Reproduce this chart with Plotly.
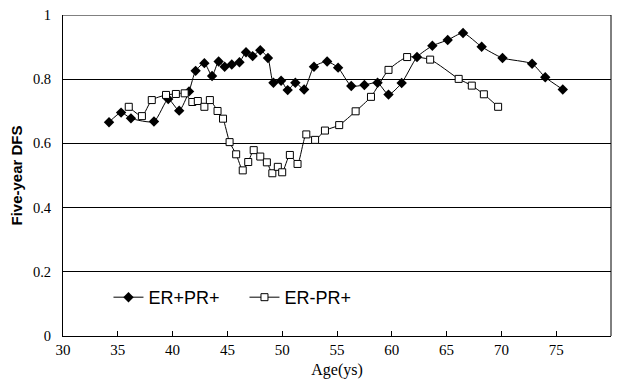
import plotly.graph_objects as go

# ER+PR+ series (black diamonds)
age_erpr = [34.2, 35.3, 36.2, 38.3, 39.6, 40.6, 41.5, 42.1, 42.9, 43.6, 44.2, 44.75, 45.4, 46.1,
            46.7, 47.3, 48.0, 48.7, 49.2, 49.9, 50.5, 51.2, 52.0, 52.9, 54.1, 55.1, 56.3, 57.5,
            58.7, 59.7, 60.9, 62.3, 63.7, 65.1, 66.5, 68.2, 70.1, 72.8, 74.0, 75.6]
dfs_erpr = [0.666, 0.696, 0.678, 0.668, 0.738, 0.702, 0.762, 0.826, 0.850, 0.810, 0.855, 0.839, 0.846, 0.853,
            0.884, 0.872, 0.890, 0.866, 0.789, 0.795, 0.766, 0.789, 0.768, 0.839, 0.855, 0.836, 0.779, 0.782,
            0.789, 0.752, 0.788, 0.869, 0.904, 0.922, 0.944, 0.901, 0.866, 0.848, 0.806, 0.768]

# ER-PR+ series (open squares)
age_ernpr = [36.0, 37.2, 38.1, 39.4, 40.3, 41.1, 41.8, 42.3, 42.9, 43.4, 44.1, 44.6, 45.2, 45.8,
             46.4, 46.9, 47.4, 48.0, 48.6, 49.1, 49.6, 50.0, 50.7, 51.4, 52.2, 53.0, 53.9, 55.2,
             56.7, 58.1, 59.7, 61.4, 63.5, 66.1, 67.3, 68.4, 69.7]
dfs_ernpr = [0.714, 0.685, 0.735, 0.751, 0.754, 0.756, 0.729, 0.732, 0.714, 0.735, 0.701, 0.677, 0.604, 0.566,
             0.516, 0.542, 0.579, 0.559, 0.541, 0.507, 0.527, 0.510, 0.564, 0.536, 0.628, 0.611, 0.640, 0.657,
             0.700, 0.745, 0.829, 0.869, 0.861, 0.801, 0.780, 0.753, 0.714]

x_ticks = [30, 35, 40, 45, 50, 55, 60, 65, 70, 75, 80]
y_ticks = [0, 0.2, 0.4, 0.6, 0.8, 1]
y_tick_labels = ["0", "0.2", "0.4", "0.6", "0.8", "1"]

fig = go.Figure()
fig.add_trace(go.Scatter(
    x=age_erpr, y=dfs_erpr, name="ER+PR+", mode="lines+markers",
    line=dict(color="black", width=1, shape="spline", smoothing=0.6),
    marker=dict(symbol="diamond", size=8, color="black", line=dict(width=0)),
))
fig.add_trace(go.Scatter(
    x=age_ernpr, y=dfs_ernpr, name="ER-PR+", mode="lines+markers",
    line=dict(color="black", width=1, shape="spline", smoothing=0.6),
    marker=dict(symbol="square", size=7, color="white", line=dict(width=1, color="black")),
))

serif = "Liberation Serif, Times New Roman, serif"
sans = "Liberation Sans, Arial, sans-serif"

fig.update_layout(
    width=618, height=381,
    margin=dict(l=63, r=7, t=15, b=45),
    paper_bgcolor="white", plot_bgcolor="white",
    showlegend=True,
    legend=dict(
        orientation="h", x=0.083, y=0.12, xanchor="left", yanchor="middle",
        font=dict(family=sans, size=18, color="black"),
        bgcolor="rgba(0,0,0,0)", borderwidth=0,
        itemwidth=30, tracegroupgap=0,
        entrywidth=91, entrywidthmode="pixels",
    ),
    xaxis=dict(
        range=[30, 80], tickmode="array", tickvals=x_ticks,
        ticks="inside", ticklen=5, tickcolor="black", tickwidth=1,
        showline=True, linecolor="black", linewidth=1,
        showgrid=False, zeroline=False,
        tickfont=dict(family=serif, size=15, color="black"),
        title=dict(text="Age(ys)", font=dict(family=serif, size=16, color="black"), standoff=6),
    ),
    yaxis=dict(
        range=[0, 1], tickmode="array", tickvals=y_ticks, ticktext=y_tick_labels,
        ticks="", showline=True, linecolor="black", linewidth=1,
        showgrid=True, gridcolor="black", gridwidth=1, zeroline=False,
        tickfont=dict(family=serif, size=14.5, color="black"),
        ticklabelstandoff=8,
        title=dict(text="<b>Five-year DFS</b>", font=dict(family=sans, size=15, color="black"), standoff=6),
    ),
)

# plot-area frame: gray top edge, black right edge
fig.add_shape(type="line", xref="paper", yref="y", x0=0, x1=1, y0=1, y1=1,
              line=dict(color="#808080", width=2))
fig.add_shape(type="line", xref="paper", yref="paper", x0=1, x1=1, y0=0, y1=1,
              line=dict(color="black", width=1))

fig.write_html("out.html", config={"displayModeBar": False},
               post_script="document.body.style.margin='0';")
